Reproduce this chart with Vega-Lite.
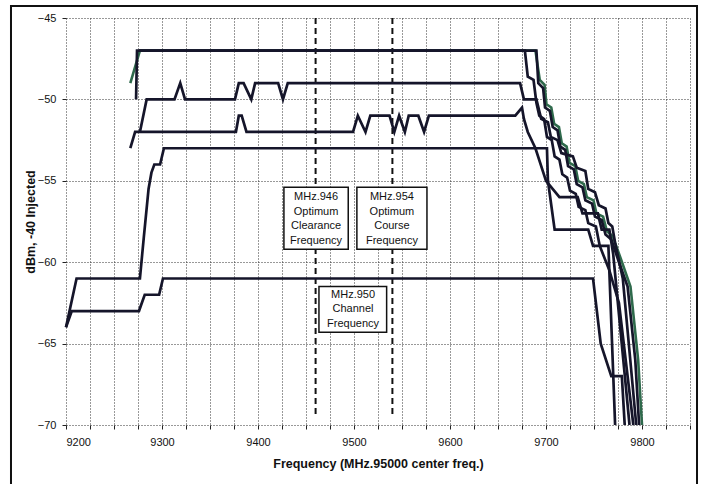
{
  "$schema": "https://vega.github.io/schema/vega-lite/v6.json",
  "width": 624,
  "height": 407,
  "autosize": {"type": "none"},
  "padding": {"left": 66, "top": 18, "right": 13, "bottom": 59},
  "background": "white",
  "config": {"view": {"stroke": null}, "font": "Liberation Sans"},
  "datasets": {
    "curves": [
      {"series": "A1", "f": 9273, "dBm": -50}, {"series": "A1", "f": 9274, "dBm": -47}, {"series": "A1", "f": 9678, "dBm": -47},
      {"series": "A1", "f": 9681, "dBm": -48.6}, {"series": "A1", "f": 9687, "dBm": -48.8}, {"series": "A1", "f": 9690, "dBm": -50.2},
      {"series": "A1", "f": 9693, "dBm": -51}, {"series": "A1", "f": 9698, "dBm": -51.2}, {"series": "A1", "f": 9701, "dBm": -52.3},
      {"series": "A1", "f": 9706, "dBm": -52.5}, {"series": "A1", "f": 9709, "dBm": -53.5}, {"series": "A1", "f": 9714, "dBm": -53.7},
      {"series": "A1", "f": 9717, "dBm": -54.6}, {"series": "A1", "f": 9722, "dBm": -54.8}, {"series": "A1", "f": 9725, "dBm": -55.6},
      {"series": "A1", "f": 9731, "dBm": -55.8}, {"series": "A1", "f": 9734, "dBm": -56.6}, {"series": "A1", "f": 9741, "dBm": -56.8},
      {"series": "A1", "f": 9744, "dBm": -57.6}, {"series": "A1", "f": 9752, "dBm": -57.8}, {"series": "A1", "f": 9756, "dBm": -59},
      {"series": "A1", "f": 9766, "dBm": -60.5}, {"series": "A1", "f": 9776, "dBm": -62.5}, {"series": "A1", "f": 9791, "dBm": -70},

      {"series": "A3", "f": 9276, "dBm": -47}, {"series": "A3", "f": 9690, "dBm": -47}, {"series": "A3", "f": 9692, "dBm": -49},
      {"series": "A3", "f": 9697, "dBm": -49.3}, {"series": "A3", "f": 9699, "dBm": -50.5}, {"series": "A3", "f": 9704, "dBm": -50.7},
      {"series": "A3", "f": 9707, "dBm": -51.7}, {"series": "A3", "f": 9712, "dBm": -51.9}, {"series": "A3", "f": 9715, "dBm": -52.9},
      {"series": "A3", "f": 9720, "dBm": -53.1}, {"series": "A3", "f": 9723, "dBm": -54.1}, {"series": "A3", "f": 9729, "dBm": -54.3},
      {"series": "A3", "f": 9732, "dBm": -55.2}, {"series": "A3", "f": 9738, "dBm": -55.4}, {"series": "A3", "f": 9741, "dBm": -56.2},
      {"series": "A3", "f": 9748, "dBm": -56.4}, {"series": "A3", "f": 9751, "dBm": -57.2}, {"series": "A3", "f": 9758, "dBm": -57.4},
      {"series": "A3", "f": 9762, "dBm": -58.3}, {"series": "A3", "f": 9768, "dBm": -58.6}, {"series": "A3", "f": 9776, "dBm": -60},
      {"series": "A3", "f": 9785, "dBm": -61.5}, {"series": "A3", "f": 9793, "dBm": -66}, {"series": "A3", "f": 9797, "dBm": -70},

      {"series": "A2", "f": 9267, "dBm": -49}, {"series": "A2", "f": 9277, "dBm": -47}, {"series": "A2", "f": 9689, "dBm": -47},
      {"series": "A2", "f": 9693.5, "dBm": -48.8}, {"series": "A2", "f": 9698.5, "dBm": -49.1}, {"series": "A2", "f": 9700.5, "dBm": -50.3},
      {"series": "A2", "f": 9705.5, "dBm": -50.5}, {"series": "A2", "f": 9708.5, "dBm": -51.5}, {"series": "A2", "f": 9713.5, "dBm": -51.7},
      {"series": "A2", "f": 9716.5, "dBm": -52.7}, {"series": "A2", "f": 9721.5, "dBm": -52.9}, {"series": "A2", "f": 9724.5, "dBm": -53.9},
      {"series": "A2", "f": 9730.5, "dBm": -54.1}, {"series": "A2", "f": 9733.5, "dBm": -55}, {"series": "A2", "f": 9739.5, "dBm": -55.2},
      {"series": "A2", "f": 9742.5, "dBm": -56}, {"series": "A2", "f": 9749.5, "dBm": -56.2}, {"series": "A2", "f": 9752.5, "dBm": -57},
      {"series": "A2", "f": 9759.5, "dBm": -57.2}, {"series": "A2", "f": 9763.5, "dBm": -58.1}, {"series": "A2", "f": 9769.5, "dBm": -58.4},
      {"series": "A2", "f": 9778, "dBm": -59.8}, {"series": "A2", "f": 9788, "dBm": -61.5}, {"series": "A2", "f": 9796, "dBm": -66},
      {"series": "A2", "f": 9800, "dBm": -70},

      {"series": "B", "f": 9277, "dBm": -52}, {"series": "B", "f": 9284, "dBm": -50}, {"series": "B", "f": 9313, "dBm": -50},
      {"series": "B", "f": 9319, "dBm": -49}, {"series": "B", "f": 9324, "dBm": -50}, {"series": "B", "f": 9376, "dBm": -50},
      {"series": "B", "f": 9380, "dBm": -49}, {"series": "B", "f": 9385, "dBm": -49}, {"series": "B", "f": 9393, "dBm": -50},
      {"series": "B", "f": 9397, "dBm": -49}, {"series": "B", "f": 9421, "dBm": -49}, {"series": "B", "f": 9426, "dBm": -50},
      {"series": "B", "f": 9431, "dBm": -49}, {"series": "B", "f": 9673, "dBm": -49}, {"series": "B", "f": 9677, "dBm": -50},
      {"series": "B", "f": 9690, "dBm": -50}, {"series": "B", "f": 9695, "dBm": -51.2}, {"series": "B", "f": 9702, "dBm": -51.4},
      {"series": "B", "f": 9705, "dBm": -52.3}, {"series": "B", "f": 9712, "dBm": -52.5}, {"series": "B", "f": 9716, "dBm": -53.3},
      {"series": "B", "f": 9728, "dBm": -53.5}, {"series": "B", "f": 9732, "dBm": -54.2}, {"series": "B", "f": 9741, "dBm": -54.4},
      {"series": "B", "f": 9744, "dBm": -55.5}, {"series": "B", "f": 9751, "dBm": -55.7}, {"series": "B", "f": 9755, "dBm": -56.5},
      {"series": "B", "f": 9762, "dBm": -56.7}, {"series": "B", "f": 9765, "dBm": -57.6}, {"series": "B", "f": 9769, "dBm": -57.8},
      {"series": "B", "f": 9772, "dBm": -58.8}, {"series": "B", "f": 9780, "dBm": -61}, {"series": "B", "f": 9794, "dBm": -70},

      {"series": "C", "f": 9267, "dBm": -53}, {"series": "C", "f": 9272, "dBm": -52}, {"series": "C", "f": 9377, "dBm": -52},
      {"series": "C", "f": 9380, "dBm": -51}, {"series": "C", "f": 9383, "dBm": -51}, {"series": "C", "f": 9388, "dBm": -52},
      {"series": "C", "f": 9499, "dBm": -52}, {"series": "C", "f": 9504, "dBm": -51}, {"series": "C", "f": 9512, "dBm": -52},
      {"series": "C", "f": 9517, "dBm": -51}, {"series": "C", "f": 9537, "dBm": -51}, {"series": "C", "f": 9542, "dBm": -52},
      {"series": "C", "f": 9547, "dBm": -51}, {"series": "C", "f": 9553, "dBm": -52}, {"series": "C", "f": 9557, "dBm": -51},
      {"series": "C", "f": 9567, "dBm": -51}, {"series": "C", "f": 9573, "dBm": -52}, {"series": "C", "f": 9578, "dBm": -51},
      {"series": "C", "f": 9668, "dBm": -51}, {"series": "C", "f": 9675, "dBm": -50.5}, {"series": "C", "f": 9677, "dBm": -51.2},
      {"series": "C", "f": 9681, "dBm": -52}, {"series": "C", "f": 9689, "dBm": -53}, {"series": "C", "f": 9700, "dBm": -55},
      {"series": "C", "f": 9714, "dBm": -56}, {"series": "C", "f": 9733, "dBm": -56}, {"series": "C", "f": 9738, "dBm": -57},
      {"series": "C", "f": 9754, "dBm": -57}, {"series": "C", "f": 9758, "dBm": -58}, {"series": "C", "f": 9766, "dBm": -58},
      {"series": "C", "f": 9770, "dBm": -59.5}, {"series": "C", "f": 9787, "dBm": -70},

      {"series": "D", "f": 9200, "dBm": -64}, {"series": "D", "f": 9211, "dBm": -61}, {"series": "D", "f": 9277, "dBm": -61},
      {"series": "D", "f": 9281, "dBm": -58.5}, {"series": "D", "f": 9286, "dBm": -55.5}, {"series": "D", "f": 9289, "dBm": -54.5},
      {"series": "D", "f": 9292, "dBm": -54}, {"series": "D", "f": 9298, "dBm": -54}, {"series": "D", "f": 9302, "dBm": -53},
      {"series": "D", "f": 9701, "dBm": -53}, {"series": "D", "f": 9702, "dBm": -55}, {"series": "D", "f": 9709, "dBm": -58},
      {"series": "D", "f": 9744, "dBm": -58}, {"series": "D", "f": 9749, "dBm": -59}, {"series": "D", "f": 9765, "dBm": -59},
      {"series": "D", "f": 9772, "dBm": -70},

      {"series": "E", "f": 9200, "dBm": -64}, {"series": "E", "f": 9206, "dBm": -63}, {"series": "E", "f": 9276, "dBm": -63},
      {"series": "E", "f": 9282, "dBm": -62}, {"series": "E", "f": 9297, "dBm": -62}, {"series": "E", "f": 9301, "dBm": -61},
      {"series": "E", "f": 9749, "dBm": -61}, {"series": "E", "f": 9757, "dBm": -65}, {"series": "E", "f": 9768, "dBm": -67},
      {"series": "E", "f": 9779, "dBm": -67}, {"series": "E", "f": 9782, "dBm": -70}
    ],
    "markers": [
      {"f": 9460, "dBm": -45, "dBm2": -69.5},
      {"f": 9540, "dBm": -45, "dBm2": -69.5}
    ],
    "solidGridX": [
      {"f": 9300}, {"f": 9500}, {"f": 9525}, {"f": 9550}, {"f": 9650}, {"f": 9700}, {"f": 9725}, {"f": 9750}
    ],
    "solidGridY": [
      {"dBm": -55}, {"dBm": -65}
    ],
    "notes": [
      {"f": 9427, "f2": 9494, "dBm": -55.4, "dBm2": -59.2, "fc": 9460.5, "yc": -56.0, "label": "MHz.946\nOptimum\nClearance\nFrequency"},
      {"f": 9503, "f2": 9576, "dBm": -55.4, "dBm2": -59.2, "fc": 9539.5, "yc": -56.0, "label": "MHz.954\nOptimum\nCourse\nFrequency"},
      {"f": 9463.5, "f2": 9534, "dBm": -61.5, "dBm2": -64.3, "fc": 9499, "yc": -62.0, "label": "MHz.950\nChannel\nFrequency"}
    ],
    "frame": [
      {"f": 9142.7, "f2": 9857.3, "dBm": -44.27, "dBm2": -74}
    ]
  },
  "encoding": {
    "x": {
      "field": "f",
      "type": "quantitative",
      "scale": {"domain": [9200, 9850], "nice": false, "zero": false},
      "axis": {
        "values": [9200, 9225, 9250, 9275, 9300, 9325, 9350, 9375, 9400, 9425, 9450, 9475, 9500, 9525, 9550, 9575, 9600, 9625, 9650, 9675, 9700, 9725, 9750, 9775, 9800, 9825, 9850],
        "labelExpr": "datum.value % 100 === 0 && datum.value < 9850 ? datum.label : ''",
        "format": "d",
        "domain": false,
        "grid": true,
        "gridColor": "#333333",
        "gridDash": [1, 2],
        "gridWidth": 1,
        "ticks": true,
        "tickSize": 4,
        "tickColor": "#222222",
        "labelPadding": 7,
        "labelFont": "Liberation Sans",
        "labelFontSize": 11,
        "labelColor": "#111111",
        "title": "Frequency (MHz.95000 center freq.)",
        "titleFont": "Liberation Sans",
        "titleFontSize": 12.5,
        "titleFontWeight": "bold",
        "titleColor": "#111111",
        "titlePadding": 10
      }
    },
    "y": {
      "field": "dBm",
      "type": "quantitative",
      "scale": {"domain": [-70, -45], "nice": false, "zero": false},
      "axis": {
        "values": [-70, -65, -60, -55, -50, -45],
        "domain": false,
        "grid": true,
        "gridColor": "#333333",
        "gridDash": [1, 2],
        "gridWidth": 1,
        "ticks": true,
        "tickSize": 4,
        "tickColor": "#222222",
        "labelPadding": 6,
        "labelFont": "Liberation Sans",
        "labelFontSize": 11,
        "labelColor": "#111111",
        "title": "dBm, -40 Injected",
        "titleFont": "Liberation Sans",
        "titleFontSize": 12.5,
        "titleFontWeight": "bold",
        "titleColor": "#111111",
        "titlePadding": 0
      }
    }
  },
  "layer": [
    {
      "data": {"name": "solidGridX"},
      "mark": {"type": "rule", "color": "#2a2a2a", "strokeWidth": 1},
      "encoding": {"y": {"datum": -45}, "y2": {"datum": -70}}
    },
    {
      "data": {"name": "solidGridY"},
      "mark": {"type": "rule", "color": "#2a2a2a", "strokeWidth": 1},
      "encoding": {"x": {"datum": 9200}, "x2": {"datum": 9850}}
    },
    {
      "data": {"name": "markers"},
      "mark": {"type": "rule", "color": "#111111", "strokeWidth": 2, "strokeDash": [6, 4]},
      "encoding": {"y2": {"field": "dBm2"}}
    },
    {
      "data": {"name": "curves"},
      "transform": [{"filter": "datum.series === 'A2'"}],
      "mark": {"type": "line", "color": "#2f6a4c", "strokeWidth": 2.6},
      "encoding": {"detail": {"field": "series"}}
    },
    {
      "data": {"name": "curves"},
      "transform": [{"filter": "datum.series !== 'A2'"}],
      "mark": {"type": "line", "color": "#15152a", "strokeWidth": 2.7},
      "encoding": {"detail": {"field": "series"}}
    },
    {
      "data": {"name": "notes"},
      "mark": {"type": "rect", "fill": "white", "stroke": "#111111", "strokeWidth": 1.5},
      "encoding": {"x2": {"field": "f2"}, "y2": {"field": "dBm2"}}
    },
    {
      "data": {"name": "notes"},
      "mark": {"type": "text", "lineBreak": "\n", "lineHeight": 14.7, "fontSize": 11, "font": "Liberation Sans", "color": "#111111", "align": "center", "baseline": "middle"},
      "encoding": {
        "x": {"field": "fc", "type": "quantitative"},
        "y": {"field": "yc", "type": "quantitative"},
        "text": {"field": "label", "type": "nominal"}
      }
    },
    {
      "data": {"name": "frame"},
      "mark": {"type": "rect", "fill": null, "fillOpacity": 0, "stroke": "#111111", "strokeWidth": 2, "clip": false},
      "encoding": {"x2": {"field": "f2"}, "y2": {"field": "dBm2"}}
    }
  ]
}
